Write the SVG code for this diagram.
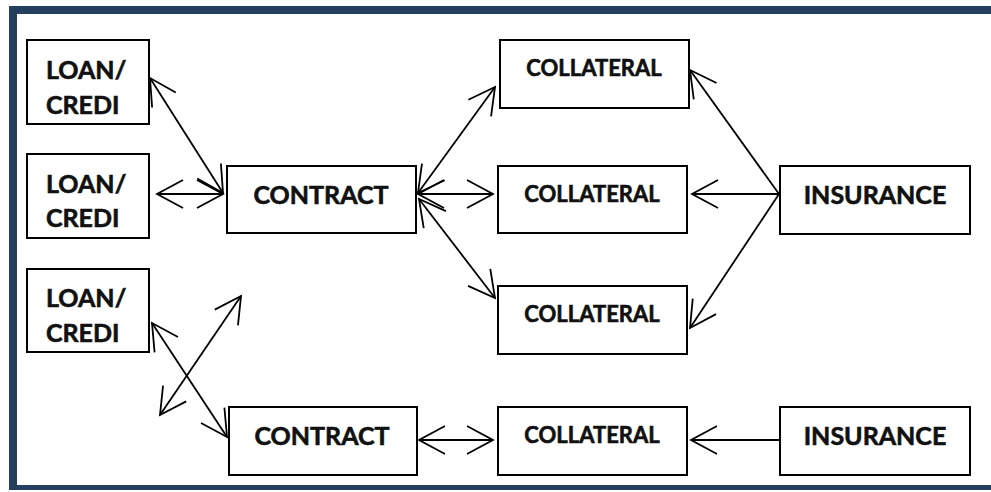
<svg xmlns="http://www.w3.org/2000/svg" width="991" height="492" viewBox="0 0 991 492">
<style>
.box{fill:#fff;stroke:#000;stroke-width:2}
.t{font-family:Lato,"Open Sans","Liberation Sans",sans-serif;font-weight:bold;fill:#111;stroke:#111;stroke-width:0.6}
.big{font-size:25px}
.small{font-size:22px}
.c{stroke:#000;stroke-width:1.8;fill:none}
.frame{fill:#243F60}
</style>
<defs>
<marker id="ah" markerUnits="userSpaceOnUse" markerWidth="30" markerHeight="30" refX="0" refY="0" orient="auto-start-reverse" overflow="visible" viewBox="-30 -15 30 30">
<path d="M-26,-14 L0,0 L-26,14" fill="none" stroke="#000" stroke-width="1.8"/>
</marker>
</defs>
<rect width="991" height="492" fill="#fff"/>
<g id="frame">
<rect class="frame" x="9" y="6" width="982" height="8"/>
<rect class="frame" x="9" y="6" width="8" height="484"/>
<rect class="frame" x="9" y="485" width="982" height="5"/>
</g>
<g id="connectors">
<line class="c" x1="150" y1="78" x2="223" y2="193" marker-start="url(#ah)" marker-end="url(#ah)"/>
<line class="c" x1="157" y1="194" x2="223" y2="194" marker-start="url(#ah)" marker-end="url(#ah)"/>
<line class="c" x1="418" y1="193" x2="495" y2="87" marker-start="url(#ah)" marker-end="url(#ah)"/>
<line class="c" x1="418" y1="194" x2="493" y2="194" marker-start="url(#ah)" marker-end="url(#ah)"/>
<line class="c" x1="419" y1="199" x2="495" y2="298" marker-start="url(#ah)" marker-end="url(#ah)"/>
<line class="c" x1="779" y1="194" x2="690" y2="70" marker-end="url(#ah)"/>
<line class="c" x1="779" y1="194" x2="692" y2="194" marker-end="url(#ah)"/>
<line class="c" x1="779" y1="194" x2="690" y2="328" marker-end="url(#ah)"/>
<line class="c" x1="152" y1="323" x2="227" y2="437" marker-start="url(#ah)" marker-end="url(#ah)"/>
<line class="c" x1="160" y1="415" x2="241" y2="296" marker-start="url(#ah)" marker-end="url(#ah)"/>
<line class="c" x1="419" y1="440" x2="493" y2="440" marker-start="url(#ah)" marker-end="url(#ah)"/>
<line class="c" x1="780" y1="440" x2="691" y2="440" marker-end="url(#ah)"/>
</g>
<g id="loan1">
<rect class="box" x="27" y="40" width="122" height="84"/>
<text class="t big" x="46" y="79">LOAN/</text>
<text class="t big" x="46" y="114">CREDI</text>
</g>
<g id="loan2">
<rect class="box" x="27" y="154" width="122" height="84"/>
<text class="t big" x="46" y="193">LOAN/</text>
<text class="t big" x="46" y="227">CREDI</text>
</g>
<g id="loan3">
<rect class="box" x="27" y="269" width="122" height="83"/>
<text class="t big" x="46" y="307">LOAN/</text>
<text class="t big" x="46" y="342">CREDI</text>
</g>
<g id="contract1">
<rect class="box" x="227" y="166" width="189" height="67"/>
<text class="t big" x="321" y="204" text-anchor="middle">CONTRACT</text>
</g>
<g id="contract2">
<rect class="box" x="229" y="407" width="188" height="68"/>
<text class="t big" x="322" y="445" text-anchor="middle">CONTRACT</text>
</g>
<g id="collateral1">
<rect class="box" x="500" y="40" width="189" height="68"/>
<text class="t small" x="594" y="76" text-anchor="middle">COLLATERAL</text>
</g>
<g id="collateral2">
<rect class="box" x="498" y="166" width="189" height="67"/>
<text class="t small" x="592" y="202" text-anchor="middle">COLLATERAL</text>
</g>
<g id="collateral3">
<rect class="box" x="498" y="286" width="189" height="68"/>
<text class="t small" x="592" y="322" text-anchor="middle">COLLATERAL</text>
</g>
<g id="collateral4">
<rect class="box" x="498" y="407" width="189" height="68"/>
<text class="t small" x="592" y="443" text-anchor="middle">COLLATERAL</text>
</g>
<g id="insurance1">
<rect class="box" x="780" y="166" width="190" height="68"/>
<text class="t big" x="875" y="204" text-anchor="middle">INSURANCE</text>
</g>
<g id="insurance2">
<rect class="box" x="780" y="407" width="190" height="68"/>
<text class="t big" x="875" y="445" text-anchor="middle">INSURANCE</text>
</g>
</svg>
